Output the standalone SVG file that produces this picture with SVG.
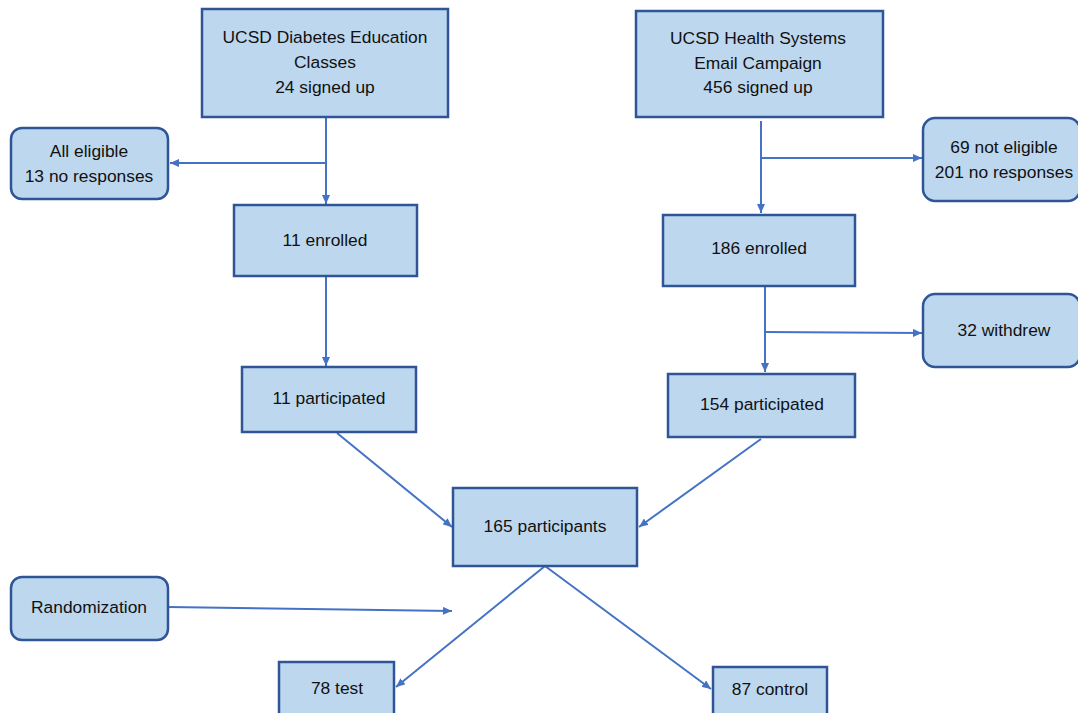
<svg xmlns="http://www.w3.org/2000/svg" width="1078" height="713" viewBox="0 0 1078 713">
<style>
.box{fill:#BDD7EE;stroke:#2F5597;stroke-width:2.5}
.t{font-family:"Liberation Sans",Arial,sans-serif;font-size:17.4px;fill:#111;text-anchor:middle;dominant-baseline:central}
.c{stroke:#4472C4;stroke-width:2;fill:none;marker-end:url(#ah)}
</style>
<defs>
<marker id="ah" markerUnits="userSpaceOnUse" markerWidth="10" markerHeight="8" refX="9" refY="4" orient="auto">
<path d="M0,0 L9,4 L0,8 Z" fill="#4472C4"/>
</marker>
</defs>
<rect width="1078" height="713" fill="#fff"/>
<g id="connectors">
<line class="c" x1="326" y1="117" x2="326" y2="204"/>
<line x1="326" y1="163" x2="170" y2="163" class="c"/>
<line class="c" x1="326" y1="276" x2="326" y2="366"/>
<line class="c" x1="761" y1="121" x2="761" y2="213"/>
<line class="c" x1="761" y1="158" x2="922" y2="158"/>
<line class="c" x1="765" y1="286" x2="765" y2="372"/>
<line class="c" x1="765" y1="332" x2="922" y2="333"/>
<line class="c" x1="337" y1="433" x2="452" y2="527"/>
<line class="c" x1="761" y1="439" x2="639" y2="527"/>
<line class="c" x1="168" y1="607" x2="452" y2="611"/>
<line class="c" x1="545" y1="566" x2="396" y2="687"/>
<line class="c" x1="545" y1="566" x2="711" y2="689"/>
</g>
<g id="n_diabetes">
<rect class="box" x="202" y="9" width="246" height="108"/>
<text class="t" x="325" y="37">UCSD Diabetes Education</text>
<text class="t" x="325" y="62">Classes</text>
<text class="t" x="325" y="87">24 signed up</text>
</g>
<g id="n_health">
<rect class="box" x="636" y="11" width="247" height="106"/>
<text class="t" x="758" y="38">UCSD Health Systems</text>
<text class="t" x="758" y="63">Email Campaign</text>
<text class="t" x="758" y="87">456 signed up</text>
</g>
<g id="n_alleligible">
<rect class="box" x="11" y="128" width="157" height="71" rx="11"/>
<text class="t" x="89" y="151">All eligible</text>
<text class="t" x="89" y="176">13 no responses</text>
</g>
<g id="n_noteligible">
<rect class="box" x="923" y="118" width="157" height="83" rx="12"/>
<text class="t" x="1004" y="147">69 not eligible</text>
<text class="t" x="1004" y="172">201 no responses</text>
</g>
<g id="n_enrolled11">
<rect class="box" x="234" y="205" width="183" height="71"/>
<text class="t" x="325" y="240">11 enrolled</text>
</g>
<g id="n_enrolled186">
<rect class="box" x="663" y="215" width="192" height="71"/>
<text class="t" x="759" y="248">186 enrolled</text>
</g>
<g id="n_withdrew">
<rect class="box" x="923" y="294" width="157" height="73" rx="12"/>
<text class="t" x="1004" y="330">32 withdrew</text>
</g>
<g id="n_part11">
<rect class="box" x="242" y="367" width="174" height="65"/>
<text class="t" x="329" y="398">11 participated</text>
</g>
<g id="n_part154">
<rect class="box" x="668" y="374" width="187" height="63"/>
<text class="t" x="762" y="404">154 participated</text>
</g>
<g id="n_165">
<rect class="box" x="453" y="488" width="184" height="78"/>
<text class="t" x="545" y="526">165 participants</text>
</g>
<g id="n_random">
<rect class="box" x="11" y="577" width="157" height="63" rx="11"/>
<text class="t" x="89" y="607">Randomization</text>
</g>
<g id="n_test">
<rect class="box" x="279" y="662" width="115" height="60"/>
<text class="t" x="337" y="688">78 test</text>
</g>
<g id="n_control">
<rect class="box" x="713" y="667" width="114" height="60"/>
<text class="t" x="770" y="689">87 control</text>
</g>
</svg>
